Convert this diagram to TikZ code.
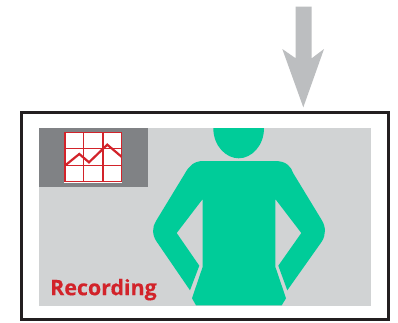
\documentclass[tikz,border=0pt]{standalone}
\usepackage{fontspec}
\setmainfont{Open Sans}[BoldFeatures={FakeBold=0.25}]
\definecolor{frameblack}{HTML}{231F20}
\definecolor{panel}{HTML}{D1D3D4}
\definecolor{darkpanel}{HTML}{808285}
\definecolor{arrowgrey}{HTML}{BCBEC0}
\definecolor{figure}{HTML}{00CC99}
\definecolor{redc}{HTML}{D2232A}
\begin{document}
\begin{tikzpicture}[x=1pt,y=-1pt,
  gridline/.style={draw=redc,line width=1.1pt},
  labeltext/.style={text=redc,font=\fontsize{21.4}{24}\selectfont\bfseries,inner sep=0pt}]
\useasboundingbox (0,0) rectangle (398,322);
\fill[white] (0,0) rectangle (398,322);
% arrow
\fill[arrowgrey] (295.7,6.7) -- (311.7,6.7) -- (311.7,58.3) -- (324,49) -- (303.3,107.3) -- (282.3,49) -- (295.7,58.3) -- cycle;
% frame
\draw[frameblack,line width=3pt] (21.3,112.8) rectangle (388.7,319.8);
% panels
\fill[panel] (39,128) rectangle (371,305.7);
\fill[darkpanel] (39,128) rectangle (148,187);
% chart
\fill[white] (64.2,132) rectangle (121.8,182.6);
\draw[gridline] (65,132.8) rectangle (121.3,181.6);
\draw[gridline] (83.3,132.8) -- (83.3,181.6) (103,132.8) -- (103,181.6)
  (65,148.7) -- (121.3,148.7) (65,165.7) -- (121.3,165.7);
\draw[redc,line width=2.2pt] (65.7,165) -- (79.3,154) -- (89,162.3) -- (107.3,144.7) -- (121.5,156.7);
% person
\fill[figure] (213.3,128) .. controls (213.3,146) and (226,158.3) .. (238.7,158.3)
  .. controls (251.4,158.3) and (264,146) .. (264,128) -- cycle;
\fill[figure] (203.3,161) -- (275,161)
  .. controls (287,161) and (291,167) .. (293.3,173.3)
  -- (321.7,220)
  .. controls (326,227) and (326,235) .. (321.7,241.7)
  -- (287.3,290.3) -- (278.3,265.7) -- (301.3,233) -- (275.3,199) -- (275.3,266.7)
  -- (286,298.3) -- (281.7,305.3) -- (196,305.3) -- (192,298.3) -- (202.7,266.7)
  -- (202.7,199) -- (176.7,233) -- (199.3,265.7) -- (190,290.3)
  -- (156.7,241.7)
  .. controls (152,235) and (152,227) .. (156,221)
  -- (185,173.3)
  .. controls (189,166) and (194,161) .. (203.3,161) -- cycle;
% label
\node[labeltext,anchor=base west] (rec) at (50,295.2) {Recording};
\end{tikzpicture}
\end{document}
